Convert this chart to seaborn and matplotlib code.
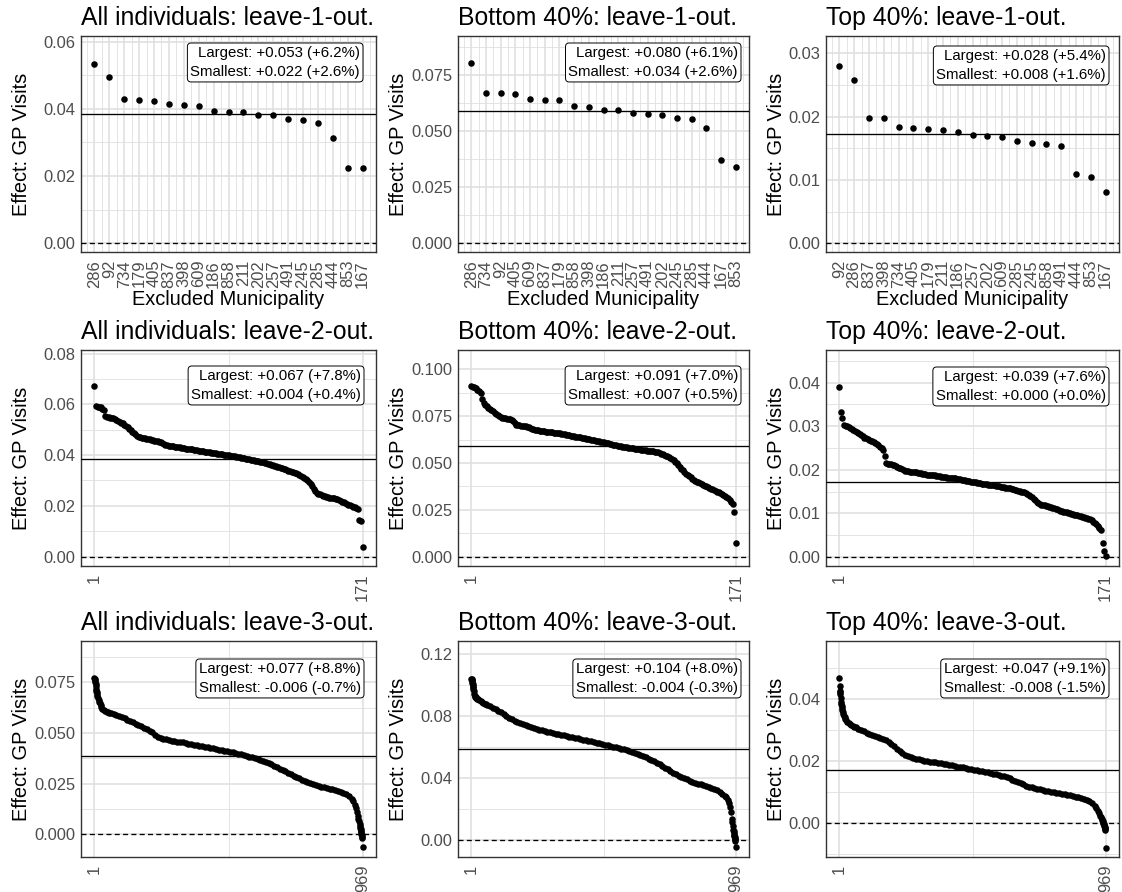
import numpy as np
import pandas as pd
import matplotlib
matplotlib.use("Agg")
import matplotlib.pyplot as plt
import seaborn as sns

# ---------------------------------------------------------------------------
# Leave-1-out: excluded municipality (sorted by estimate) and estimated effect
# ---------------------------------------------------------------------------
MUNI_ALL_L1 = ["286", "92", "734", "179", "405", "837", "398", "609", "186", "858",
               "211", "202", "257", "491", "245", "285", "444", "853", "167"]
EFF_ALL_L1 = [0.0533, 0.0496, 0.0430, 0.0427, 0.0424, 0.0416, 0.0411, 0.0409, 0.0395, 0.0390,
              0.0390, 0.0381, 0.0381, 0.0369, 0.0368, 0.0358, 0.0314, 0.0225, 0.0224]

MUNI_BOT_L1 = ["286", "734", "92", "405", "609", "837", "179", "858", "398", "186",
               "211", "257", "491", "202", "245", "285", "444", "167", "853"]
EFF_BOT_L1 = [0.0803, 0.0671, 0.0671, 0.0667, 0.0644, 0.0640, 0.0637, 0.0610, 0.0607, 0.0594,
              0.0594, 0.0581, 0.0576, 0.0570, 0.0558, 0.0553, 0.0512, 0.0371, 0.0338]

MUNI_TOP_L1 = ["92", "286", "837", "398", "734", "405", "179", "211", "186", "257",
               "202", "609", "285", "245", "858", "491", "444", "853", "167"]
EFF_TOP_L1 = [0.0279, 0.0257, 0.0198, 0.0198, 0.0184, 0.0182, 0.0181, 0.0178, 0.0176, 0.0171,
              0.0170, 0.0167, 0.0162, 0.0159, 0.0156, 0.0154, 0.0109, 0.0105, 0.0081]

# ---------------------------------------------------------------------------
# Leave-2-out: all 171 estimates, sorted from largest to smallest
# ---------------------------------------------------------------------------
EFF_ALL_L2 = [
    0.0672,
    0.0592, 0.0591, 0.0590, 0.0589,
    0.0582, 0.0576,
    0.0553, 0.0551, 0.0550, 0.0548, 0.0546, 0.0545, 0.0543,
    0.0540, 0.0536, 0.0532, 0.0528, 0.0525,
    0.0520, 0.0515, 0.0510, 0.0504, 0.0498, 0.0492,
    0.0487, 0.0482, 0.0477, 0.0473, 0.0471,
    0.0469, 0.0468, 0.0466, 0.0465, 0.0463, 0.0462,
    0.0460, 0.0459, 0.0457, 0.0456, 0.0454, 0.0453,
    0.0450, 0.0447, 0.0444, 0.0440,
    0.0438, 0.0437, 0.0436, 0.0435, 0.0434, 0.0433, 0.0432, 0.0431, 0.0430, 0.0429, 0.0427,
    0.0426, 0.0425, 0.0424, 0.0423, 0.0423, 0.0422, 0.0421, 0.0420, 0.0419, 0.0418,
    0.0417, 0.0416, 0.0415, 0.0414, 0.0413, 0.0412, 0.0411, 0.0410, 0.0409, 0.0408, 0.0407,
    0.0406, 0.0405, 0.0404, 0.0403, 0.0402, 0.0401, 0.0400, 0.0399, 0.0398, 0.0397,
    0.0396, 0.0395, 0.0394, 0.0392, 0.0391, 0.0390, 0.0389, 0.0388, 0.0386, 0.0385, 0.0383,
    0.0382, 0.0380, 0.0379, 0.0377, 0.0376, 0.0375, 0.0373, 0.0372, 0.0371, 0.0369, 0.0368,
    0.0366, 0.0364, 0.0362, 0.0360, 0.0358, 0.0356, 0.0354, 0.0352, 0.0350, 0.0348,
    0.0346, 0.0344, 0.0341, 0.0339, 0.0336, 0.0334, 0.0332, 0.0330, 0.0328, 0.0325, 0.0322,
    0.0318, 0.0314, 0.0310, 0.0306, 0.0300, 0.0295,
    0.0287, 0.0278, 0.0268, 0.0258,
    0.0252, 0.0248, 0.0245, 0.0242, 0.0239, 0.0237,
    0.0235, 0.0233, 0.0232, 0.0231, 0.0230, 0.0229, 0.0228, 0.0226, 0.0223,
    0.0220, 0.0217, 0.0214, 0.0211, 0.0208, 0.0205, 0.0203,
    0.0200, 0.0197, 0.0194, 0.0191, 0.0186,
    0.0143, 0.0140,
    0.0038,
]

EFF_BOT_L2 = [
    0.0912, 0.0908, 0.0904, 0.0899,
    0.0890, 0.0882, 0.0872,
    0.0840, 0.0822,
    0.0808, 0.0802, 0.0795, 0.0789, 0.0783,
    0.0776, 0.0769, 0.0762, 0.0756,
    0.0750, 0.0745, 0.0742, 0.0739,
    0.0738, 0.0737, 0.0736, 0.0735, 0.0730, 0.0722,
    0.0712, 0.0704, 0.0701,
    0.0700, 0.0699, 0.0698, 0.0697, 0.0695, 0.0694,
    0.0690, 0.0686, 0.0683, 0.0680,
    0.0678, 0.0676, 0.0675, 0.0673, 0.0671, 0.0670, 0.0669, 0.0667,
    0.0666, 0.0665, 0.0664, 0.0663, 0.0662, 0.0661, 0.0660, 0.0659, 0.0658,
    0.0656, 0.0654, 0.0652, 0.0651, 0.0649, 0.0648, 0.0646, 0.0644,
    0.0642, 0.0641, 0.0639, 0.0637, 0.0636, 0.0634, 0.0632, 0.0631, 0.0629, 0.0627, 0.0626,
    0.0624, 0.0622, 0.0620, 0.0619, 0.0617, 0.0615, 0.0613, 0.0612, 0.0610, 0.0608,
    0.0606, 0.0604, 0.0602, 0.0600, 0.0598, 0.0596, 0.0594, 0.0592, 0.0591, 0.0589, 0.0587,
    0.0586, 0.0585, 0.0583, 0.0582, 0.0581, 0.0579, 0.0578, 0.0577, 0.0575, 0.0573,
    0.0572, 0.0571, 0.0570, 0.0568, 0.0567, 0.0566, 0.0565, 0.0564, 0.0563, 0.0562, 0.0560,
    0.0558, 0.0556, 0.0553, 0.0550, 0.0547, 0.0543,
    0.0539, 0.0535, 0.0531, 0.0527, 0.0522, 0.0516,
    0.0507, 0.0498, 0.0490, 0.0480,
    0.0470, 0.0460, 0.0450, 0.0442, 0.0436,
    0.0430, 0.0423, 0.0416, 0.0409,
    0.0405, 0.0400, 0.0396, 0.0392, 0.0388, 0.0383,
    0.0379, 0.0375, 0.0371, 0.0367, 0.0363, 0.0359, 0.0355,
    0.0351, 0.0347, 0.0343, 0.0339, 0.0334, 0.0329,
    0.0324, 0.0318, 0.0311, 0.0303,
    0.0292, 0.0281,
    0.0240,
    0.0071,
]

EFF_TOP_L2 = [
    0.0389, 0.0332, 0.0320, 0.0303,
    0.0301, 0.0300, 0.0299, 0.0296, 0.0293,
    0.0291, 0.0289, 0.0287, 0.0284,
    0.0281, 0.0279, 0.0277, 0.0274,
    0.0272, 0.0270, 0.0269, 0.0267,
    0.0265, 0.0263, 0.0261, 0.0259, 0.0257,
    0.0253, 0.0249, 0.0245,
    0.0232,
    0.0215, 0.0214, 0.0214, 0.0213, 0.0212, 0.0211,
    0.0209, 0.0207, 0.0205, 0.0203, 0.0201, 0.0199,
    0.0198, 0.0198, 0.0197, 0.0196, 0.0196, 0.0195, 0.0194, 0.0194, 0.0193,
    0.0192, 0.0192, 0.0191, 0.0190, 0.0190, 0.0189, 0.0189, 0.0188,
    0.0188, 0.0187, 0.0187, 0.0186, 0.0186, 0.0185, 0.0184, 0.0184, 0.0183,
    0.0183, 0.0182, 0.0182, 0.0181, 0.0181, 0.0180, 0.0180, 0.0179, 0.0179, 0.0178,
    0.0177, 0.0176, 0.0176, 0.0175, 0.0174, 0.0174, 0.0173, 0.0172, 0.0172, 0.0171, 0.0170,
    0.0169, 0.0169, 0.0168, 0.0168, 0.0167, 0.0167, 0.0166, 0.0166, 0.0165, 0.0165,
    0.0164, 0.0163, 0.0163, 0.0162, 0.0161, 0.0161, 0.0160, 0.0159, 0.0158, 0.0158, 0.0157,
    0.0156, 0.0155, 0.0154, 0.0153, 0.0152, 0.0151, 0.0150, 0.0149, 0.0148, 0.0147,
    0.0145, 0.0143, 0.0140, 0.0137, 0.0134, 0.0130,
    0.0126, 0.0123, 0.0121, 0.0120, 0.0119,
    0.0118, 0.0117, 0.0116, 0.0115, 0.0114, 0.0113, 0.0112, 0.0110, 0.0109, 0.0107,
    0.0106, 0.0105, 0.0104, 0.0103, 0.0102, 0.0101, 0.0100, 0.0099, 0.0098, 0.0097, 0.0096,
    0.0095, 0.0094, 0.0093, 0.0092, 0.0091, 0.0090, 0.0089, 0.0088, 0.0086, 0.0084,
    0.0081, 0.0078, 0.0075, 0.0071, 0.0066, 0.0061,
    0.0032,
    0.0014,
    0.0002,
]

# ---------------------------------------------------------------------------
# Leave-3-out: 969 combinations; estimates listed at the ranks below
# ---------------------------------------------------------------------------
N_L3 = 969
RANK_L3 = ([1, 2, 3, 4, 5, 6, 7, 8, 9, 10, 12, 14, 16, 18, 20, 23, 26, 30, 35, 40, 45, 50, 55]
           + list(range(60, 931, 10))
           + [935, 940, 944, 948, 951, 954, 956, 958, 960, 961, 962, 963, 964, 965, 966, 967, 968, 969])

EFF_ALL_L3 = [
    0.0772, 0.0766, 0.0760, 0.0752, 0.0743, 0.0732, 0.0720, 0.0710, 0.0702, 0.0695,
    0.0684, 0.0674, 0.0665, 0.0655, 0.0646, 0.0637, 0.0628, 0.0618, 0.0612, 0.0609,
    0.0606, 0.0603, 0.0601,
    0.0599, 0.0594, 0.0589, 0.0584, 0.0578, 0.0572, 0.0566, 0.0560, 0.0554, 0.0547,
    0.0540, 0.0533, 0.0526, 0.0519, 0.0511, 0.0503, 0.0490, 0.0480, 0.0476, 0.0472,
    0.0469, 0.0466, 0.0463, 0.0461, 0.0458, 0.0456, 0.0454, 0.0451, 0.0448, 0.0446,
    0.0443, 0.0440, 0.0437, 0.0435, 0.0432, 0.0429, 0.0426, 0.0424, 0.0421, 0.0418,
    0.0416, 0.0413, 0.0410, 0.0408, 0.0405, 0.0402, 0.0398, 0.0394, 0.0391, 0.0387,
    0.0383, 0.0379, 0.0375, 0.0371, 0.0367, 0.0362, 0.0358, 0.0352, 0.0345, 0.0338,
    0.0331, 0.0324, 0.0317, 0.0310, 0.0303, 0.0296, 0.0289, 0.0283, 0.0276, 0.0270,
    0.0264, 0.0258, 0.0253, 0.0248, 0.0243, 0.0239, 0.0235, 0.0231, 0.0228, 0.0225,
    0.0222, 0.0218, 0.0214, 0.0210, 0.0205, 0.0199, 0.0190, 0.0175,
    0.0163, 0.0145, 0.0128, 0.0108, 0.0092, 0.0075, 0.0063, 0.0050, 0.0038, 0.0032,
    0.0025, 0.0018, 0.0010, 0.0003, -0.0005, -0.0012, -0.0019, -0.0064,
]

EFF_BOT_L3 = [
    0.1042, 0.1038, 0.1032, 0.1025, 0.1018, 0.1008, 0.0998, 0.0988, 0.0975, 0.0962,
    0.0945, 0.0934, 0.0927, 0.0922, 0.0918, 0.0913, 0.0909, 0.0904, 0.0898, 0.0893,
    0.0887, 0.0882, 0.0878,
    0.0874, 0.0866, 0.0857, 0.0848, 0.0837, 0.0825, 0.0812, 0.0800, 0.0790, 0.0780,
    0.0771, 0.0763, 0.0755, 0.0748, 0.0742, 0.0735, 0.0730, 0.0725, 0.0720, 0.0715,
    0.0710, 0.0706, 0.0701, 0.0697, 0.0693, 0.0689, 0.0685, 0.0681, 0.0677, 0.0673,
    0.0669, 0.0665, 0.0661, 0.0658, 0.0654, 0.0650, 0.0646, 0.0642, 0.0638, 0.0634,
    0.0630, 0.0625, 0.0621, 0.0617, 0.0613, 0.0609, 0.0605, 0.0600, 0.0596, 0.0592,
    0.0587, 0.0582, 0.0577, 0.0571, 0.0565, 0.0559, 0.0551, 0.0544, 0.0536, 0.0528,
    0.0519, 0.0510, 0.0500, 0.0490, 0.0480, 0.0469, 0.0458, 0.0447, 0.0437, 0.0427,
    0.0418, 0.0409, 0.0400, 0.0393, 0.0386, 0.0379, 0.0373, 0.0367, 0.0361, 0.0356,
    0.0350, 0.0344, 0.0338, 0.0331, 0.0323, 0.0314, 0.0302, 0.0288,
    0.0278, 0.0262, 0.0242, 0.0215, 0.0185, 0.0140, 0.0118, 0.0093, 0.0070, 0.0058,
    0.0046, 0.0036, 0.0027, 0.0019, 0.0012, 0.0006, -0.0002, -0.0042,
]

EFF_TOP_L3 = [
    0.0467, 0.0443, 0.0428, 0.0422, 0.0416, 0.0404, 0.0392, 0.0385, 0.0378, 0.0372,
    0.0365, 0.0360, 0.0353, 0.0347, 0.0342, 0.0337, 0.0333, 0.0328, 0.0323, 0.0319,
    0.0316, 0.0313, 0.0311,
    0.0309, 0.0305, 0.0300, 0.0296, 0.0292, 0.0289, 0.0286, 0.0282, 0.0279, 0.0276,
    0.0272, 0.0268, 0.0263, 0.0256, 0.0248, 0.0240, 0.0233, 0.0226, 0.0221, 0.0216,
    0.0213, 0.0210, 0.0208, 0.0206, 0.0204, 0.0202, 0.0200, 0.0199, 0.0197, 0.0196,
    0.0195, 0.0193, 0.0192, 0.0190, 0.0188, 0.0187, 0.0185, 0.0183, 0.0182, 0.0180,
    0.0178, 0.0176, 0.0175, 0.0173, 0.0171, 0.0169, 0.0167, 0.0165, 0.0164, 0.0162,
    0.0160, 0.0158, 0.0156, 0.0153, 0.0151, 0.0148, 0.0145, 0.0141, 0.0137, 0.0133,
    0.0129, 0.0125, 0.0121, 0.0118, 0.0116, 0.0113, 0.0111, 0.0109, 0.0107, 0.0105,
    0.0103, 0.0102, 0.0100, 0.0098, 0.0097, 0.0095, 0.0094, 0.0092, 0.0090, 0.0088,
    0.0086, 0.0084, 0.0081, 0.0078, 0.0075, 0.0071, 0.0065, 0.0056,
    0.0050, 0.0040, 0.0032, 0.0024, 0.0019, 0.0014, 0.0010, 0.0006, 0.0002, 0.0000,
    -0.0003, -0.0006, -0.0009, -0.0013, -0.0017, -0.0020, -0.0023, -0.0079,
]

# Full-sample estimates (solid reference lines)
BASE_ALL = 0.0386
BASE_BOT = 0.0591
BASE_TOP = 0.0173

# Range summaries shown in each panel
SUMMARY = {
    ("all", 1): ("+0.053 (+6.2%)", "+0.022 (+2.6%)"),
    ("bot", 1): ("+0.080 (+6.1%)", "+0.034 (+2.6%)"),
    ("top", 1): ("+0.028 (+5.4%)", "+0.008 (+1.6%)"),
    ("all", 2): ("+0.067 (+7.8%)", "+0.004 (+0.4%)"),
    ("bot", 2): ("+0.091 (+7.0%)", "+0.007 (+0.5%)"),
    ("top", 2): ("+0.039 (+7.6%)", "+0.000 (+0.0%)"),
    ("all", 3): ("+0.077 (+8.8%)", "-0.006 (-0.7%)"),
    ("bot", 3): ("+0.104 (+8.0%)", "-0.004 (-0.3%)"),
    ("top", 3): ("+0.047 (+9.1%)", "-0.008 (-1.5%)"),
}
GROUP_TITLE = {"all": "All individuals", "bot": "Bottom 40%", "top": "Top 40%"}

# ---------------------------------------------------------------------------
# Styling
# ---------------------------------------------------------------------------
sns.set_theme(style="white")
plt.rcParams["font.family"] = ["Liberation Sans", "DejaVu Sans"]

FIG_W, FIG_H = 1122, 892
fig = plt.figure(figsize=(FIG_W / 100, FIG_H / 100), dpi=100)

COLS = [(81, 376), (458, 749), (826, 1119)]
ROWS = [(36, 252), (350, 566), (641, 857)]
YLAB_X = [31, 407.5, 786]           # right edge of the rotated y title
BOX_OFF = [[(13, 7), (8, 7), (10, 10)],
           [(12, 16), (8, 16), (10, 17)],
           [(12, 18), (8, 18), (10, 18)]]

GRID_COLOR = "#DFDFDF"
FRAME_COLOR = "#333333"
TICK_TEXT = "#4D4D4D"

YLIMS = [[(-0.0026, 0.0617), (-0.0039, 0.0924), (-0.00137, 0.0327)],
         [(-0.0037, 0.0814), (-0.0050, 0.1103), (-0.0021, 0.0475)],
         [(-0.0113, 0.0955), (-0.0107, 0.1286), (-0.0109, 0.0588)]]
YTICKS = [[(0.0, 0.02, 0.04, 0.06), (0.0, 0.025, 0.05, 0.075), (0.0, 0.01, 0.02, 0.03)],
          [(0.0, 0.02, 0.04, 0.06, 0.08), (0.0, 0.025, 0.05, 0.075, 0.1), (0.0, 0.01, 0.02, 0.03, 0.04)],
          [(0.0, 0.025, 0.05, 0.075), (0.0, 0.04, 0.08, 0.12), (0.0, 0.02, 0.04)]]
YDEC = [[2, 3, 2], [2, 3, 2], [3, 2, 2]]


def add_axes(r, c):
    x0, x1 = COLS[c]
    y0, y1 = ROWS[r]
    return fig.add_axes([x0 / FIG_W, 1 - y1 / FIG_H, (x1 - x0) / FIG_W, (y1 - y0) / FIG_H])


def draw(r, c, group, k, df, base, xticks, xlabels, xminor, xlim):
    ax = add_axes(r, c)
    sns.scatterplot(data=df, x="rank", y="effect", ax=ax, color="black", s=22,
                    linewidth=0, zorder=4, legend=False)
    ax.axhline(base, color="black", lw=0.95, zorder=3)
    ax.axhline(0.0, color="black", lw=0.95, dashes=(3.8, 2.5), zorder=3)

    yt = list(YTICKS[r][c])
    step = yt[1] - yt[0]
    ax.set_yticks(yt)
    ax.set_yticklabels([f"{v:.{YDEC[r][c]}f}" for v in yt])
    ax.set_yticks([yt[0] - step / 2] + [v + step / 2 for v in yt], minor=True)

    ax.set_xticks(xticks)
    ax.set_xticklabels(xlabels, rotation=90)
    ax.set_xticks(xminor, minor=True)

    # limits last, so that tick placement cannot widen them
    ax.set_xlim(*xlim)
    ax.set_ylim(*YLIMS[r][c])

    ax.tick_params(which="minor", length=0)
    ax.tick_params(which="major", length=2.7, width=0.8, color=FRAME_COLOR,
                   labelcolor=TICK_TEXT, labelsize=11.9)
    ax.tick_params(axis="y", pad=1.2)
    ax.tick_params(axis="x", pad=3.0)

    ax.set_axisbelow(True)
    ax.grid(which="major", color=GRID_COLOR, lw=1.15)
    ax.grid(which="minor", color=GRID_COLOR, lw=0.6)
    for sp in ax.spines.values():
        sp.set_visible(True)
        sp.set_color(FRAME_COLOR)
        sp.set_linewidth(1.0)

    ax.set_title(f"{GROUP_TITLE[group]}: leave-{k}-out.", loc="left",
                 fontsize=17.8, pad=8, color="black")
    ax.set_ylabel("Effect: GP Visits", fontsize=14.4, color="black")
    x0, x1 = COLS[c]
    ax.yaxis.set_label_coords((YLAB_X[c] - x0) / (x1 - x0), 0.5)
    if k == 1:
        ax.set_xlabel("Excluded Municipality", fontsize=14.4, color="black")
        y0, y1 = ROWS[r]
        ax.xaxis.set_label_coords(0.5, (y1 - 290) / (y1 - y0))
    else:
        ax.set_xlabel("")

    hi, lo = SUMMARY[(group, k)]
    fs = 10.8
    pad = 0.2
    pad_px = pad * fs * 100 / 72
    dx, dy = BOX_OFF[r][c]
    ax.annotate(f"Largest: {hi}\nSmallest: {lo}", xy=(1, 1), xycoords="axes fraction",
                xytext=(-(dx + pad_px), -(dy + pad_px)), textcoords="offset pixels",
                ha="right", va="top", multialignment="right", fontsize=fs,
                linespacing=1.45, color="black", zorder=6,
                bbox=dict(boxstyle=f"round,pad={pad},rounding_size=0.25",
                          fc="white", ec="black", lw=0.7))
    return ax


# Row 1: leave-1-out, municipality labels on the x axis
for c, (group, munis, effs, base) in enumerate([
        ("all", MUNI_ALL_L1, EFF_ALL_L1, BASE_ALL),
        ("bot", MUNI_BOT_L1, EFF_BOT_L1, BASE_BOT),
        ("top", MUNI_TOP_L1, EFF_TOP_L1, BASE_TOP)]):
    n = len(effs)
    df = pd.DataFrame({"rank": np.arange(1, n + 1), "municipality": munis, "effect": effs})
    pos = list(range(1, n + 1))
    draw(0, c, group, 1, df, base, pos, munis,
         [p - 0.5 for p in pos] + [n + 0.5], (1 - 0.05 * (n - 1), n + 0.05 * (n - 1)))

# Row 2: leave-2-out
for c, (group, effs, base) in enumerate([
        ("all", EFF_ALL_L2, BASE_ALL),
        ("bot", EFF_BOT_L2, BASE_BOT),
        ("top", EFF_TOP_L2, BASE_TOP)]):
    n = len(effs)
    df = pd.DataFrame({"rank": np.arange(1, n + 1), "effect": effs})
    draw(1, c, group, 2, df, base, [1, n], ["1", str(n)], [(1 + n) / 2],
         (1 - 0.05 * (n - 1), n + 0.05 * (n - 1)))

# Row 3: leave-3-out
for c, (group, effs, base) in enumerate([
        ("all", EFF_ALL_L3, BASE_ALL),
        ("bot", EFF_BOT_L3, BASE_BOT),
        ("top", EFF_TOP_L3, BASE_TOP)]):
    n = N_L3
    df = pd.DataFrame({"rank": RANK_L3, "effect": effs})
    draw(2, c, group, 3, df, base, [1, n], ["1", str(n)], [(1 + n) / 2],
         (1 - 0.05 * (n - 1), n + 0.05 * (n - 1)))

fig.savefig("out.png", dpi=100)
